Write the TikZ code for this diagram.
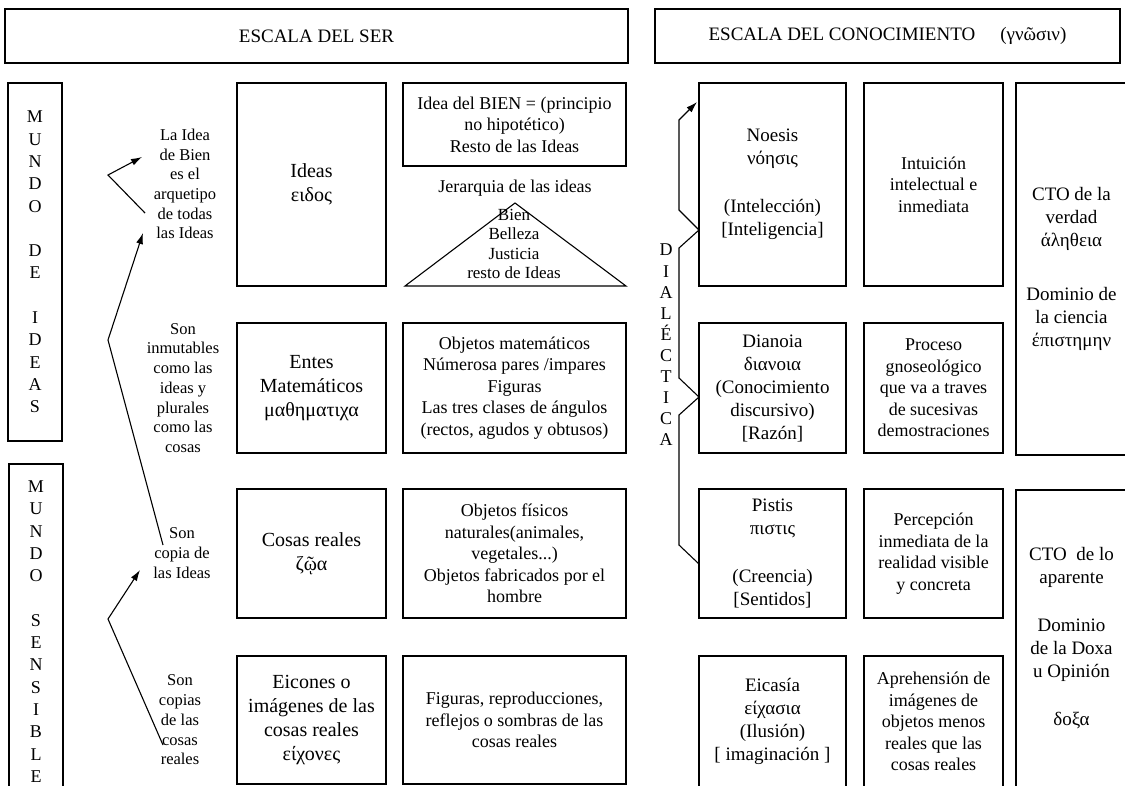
\documentclass[tikz,border=0pt]{standalone}
\usepackage{fontspec}
\setmainfont{Liberation Serif}
\usetikzlibrary{arrows.meta}

\begin{document}
\begin{tikzpicture}[x=1pt, y=-1pt, line width=1.1pt,
    every node/.style={inner sep=0pt, align=center},
    cell/.style={draw},
    bigtext/.style={font=\fontsize{20}{24}\selectfont},
    midtext/.style={font=\fontsize{19}{23}\selectfont},
    smalltext/.style={font=\fontsize{18}{21.5}\selectfont},
    sidelabel/.style={font=\fontsize{16.5}{19.7}\selectfont},
    letters/.style={font=\fontsize{18}{22.3}\selectfont},
    upto/.style={{Latex[length=11pt,width=7pt]}-}]

        \useasboundingbox (0,0) rectangle (1125,785);

        % Columns (centres)
        \def\cSer{311.5}
        \def\cObj{514.5}
        \def\cCon{772.5}
        \def\cDes{933.5}
        \def\cCto{1071.5}

        % Titles
        \node[cell, midtext, minimum width=623, minimum height=54] (ser) at (316.5,36)
            {ESCALA DEL SER};
        \node[cell, midtext, minimum width=465, minimum height=54] (con) at (887.5,36)
            {ESCALA DEL CONOCIMIENTO\hspace{25pt}(γνῶσιν)};

        % Worlds
        \node[cell, letters, minimum width=54, minimum height=358] (mundoI) at (35,262)
            {M\\U\\N\\D\\O\\[22.3pt]D\\E\\[22.3pt]I\\D\\E\\A\\S};
        \node[cell, letters, minimum width=54, minimum height=335] (mundoS) at (36,631.5)
            {M\\U\\N\\D\\O\\[22.3pt]S\\E\\N\\S\\I\\B\\L\\E};

        % Scale of being
        \node[cell, bigtext, minimum width=149, minimum height=203] (ideas) at (\cSer,184.5)
            {Ideas\\ειδος};
        \node[cell, smalltext, minimum width=223, minimum height=83] (bien) at (\cObj,124.5)
            {Idea del BIEN = (principio\\no hipotético)\\Resto de las Ideas};
        \node[smalltext] (jerarquia) at (515,188) {Jerarquia de las ideas};
        \draw (515,203) -- (405,286) -- (626,286) -- cycle;
        \node[font=\fontsize{17}{19.4}\selectfont] (grados) at (514,244)
            {Bien\\Belleza\\Justicia\\resto de Ideas};

        \node[cell, bigtext, minimum width=149, minimum height=130] (entes) at (\cSer,388)
            {Entes\\Matemáticos\\μαθηματιχα};
        \node[cell, smalltext, minimum width=223, minimum height=130] (objmat) at (\cObj,388)
            {Objetos matemáticos\\Númerosa pares /impares\\Figuras\\Las tres clases de ángulos\\(rectos, agudos y obtusos)};

        \node[cell, bigtext, minimum width=149, minimum height=129] (cosas) at (\cSer,553.5)
            {Cosas reales\\ζῷα};
        \node[cell, smalltext, minimum width=223, minimum height=129] (objfis) at (\cObj,553.5)
            {Objetos físicos\\naturales(animales,\\vegetales...)\\Objetos fabricados por el\\hombre};

        \node[cell, bigtext, minimum width=149, minimum height=128] (eicones) at (\cSer,720)
            {Eicones o\\imágenes de las\\cosas reales\\είχονες};
        \node[cell, smalltext, minimum width=223, minimum height=128] (figuras) at (\cObj,720)
            {Figuras, reproducciones,\\reflejos o sombras de las\\cosas reales};

        % Side labels
        \node[sidelabel] (lIdea) at (185,184)
            {La Idea\\de Bien\\es el\\arquetipo\\de todas\\las Ideas};
        \node[sidelabel] (lInmut) at (183,388)
            {Son\\inmutables\\como las\\ideas y\\plurales\\como las\\cosas};
        \node[sidelabel] (lCopia) at (182,553)
            {Son\\copia de\\las Ideas};
        \node[sidelabel] (lCopias) at (180,720)
            {Son\\copias\\de las\\cosas\\reales};

        % Ascent arrows
        \coordinate (v1) at (108,175);
        \coordinate (a1) at (142,157);
        \coordinate (e1) at (145,213);
        \coordinate (v2) at (108,340);
        \coordinate (a2) at (143,233);
        \coordinate (e2) at (163,545);
        \coordinate (v3) at (108,619);
        \coordinate (a3) at (140,570);
        \coordinate (e3) at (163,745);
        \draw[upto] (a1) -- (v1) -- (e1);
        \draw[upto] (a2) -- (v2) -- (e2);
        \draw[upto] (a3) -- (v3) -- (e3);

        % Scale of knowledge
        \node[cell, midtext, minimum width=147, minimum height=203] (noesis) at (\cCon,184.5)
            {Noesis\\νόησις\\[25pt](Intelección)\\{[Inteligencia]}};
        \node[cell, smalltext, minimum width=139, minimum height=203] (intuicion) at (\cDes,184.5)
            {Intuición\\intelectual e\\inmediata};
        \node[cell, midtext, minimum width=111, minimum height=372] (ctoV) at (\cCto,269)
            {CTO de la\\verdad\\άληθεια\\[31pt]Dominio de\\la ciencia\\έπιστημην};

        \node[cell, midtext, minimum width=147, minimum height=130] (dianoia) at (\cCon,388)
            {Dianoia\\διανοια\\(Conocimiento\\discursivo)\\{[Razón]}};
        \node[cell, smalltext, minimum width=139, minimum height=130] (proceso) at (\cDes,388)
            {Proceso\\gnoseológico\\que va a traves\\de sucesivas\\demostraciones};

        \node[cell, midtext, minimum width=147, minimum height=129] (pistis) at (\cCon,553.5)
            {Pistis\\πιστις\\[25pt](Creencia)\\{[Sentidos]}};
        \node[cell, smalltext, minimum width=139, minimum height=129] (percepcion) at (\cDes,553.5)
            {Percepción\\inmediata de la\\realidad visible\\y concreta};
        \node[cell, midtext, minimum width=111, minimum height=297] (ctoA) at (\cCto,638.5)
            {CTO\ \ de lo\\aparente\\[25pt]Dominio\\de la Doxa\\u Opinión\\[25pt]δοξα};

        \node[cell, midtext, minimum width=147, minimum height=131] (eicasia) at (\cCon,721.5)
            {Eicasía\\είχασια\\(Ilusión)\\{[ imaginación ]}};
        \node[cell, smalltext, minimum width=139, minimum height=131] (aprehension) at (\cDes,721.5)
            {Aprehensión de\\imágenes de\\objetos menos\\reales que las\\cosas reales};

        % Dialectic
        \node[letters, font=\fontsize{18}{21.1}\selectfont] (dialectica) at (666,345)
            {D\\I\\A\\L\\É\\C\\T\\I\\C\\A};
        \coordinate (d0) at (699,564);
        \coordinate (d1) at (679,545);
        \coordinate (d2) at (679,415);
        \coordinate (d3) at (699,397);
        \coordinate (d4) at (679,378);
        \coordinate (d5) at (679,248);
        \coordinate (d6) at (699,230);
        \coordinate (d7) at (679,210);
        \coordinate (d8) at (679,120);
        \coordinate (d9) at (697,102);
        \draw[-{Latex[length=11pt,width=7pt]}] (d0) -- (d1) -- (d2) -- (d3) -- (d4)
            -- (d5) -- (d6) -- (d7) -- (d8) -- (d9);

    \end{tikzpicture}
\end{document}
